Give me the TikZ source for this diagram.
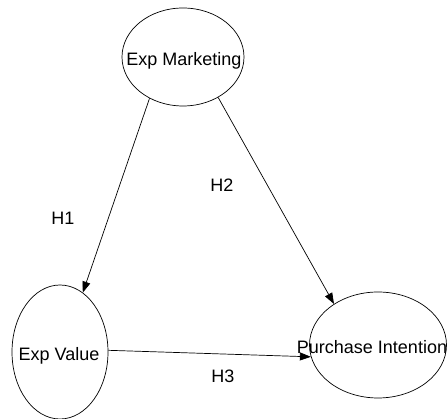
\documentclass[tikz,border=0pt]{standalone}
\usepackage{fontspec}
\setmainfont{Liberation Sans}
\usetikzlibrary{shapes.geometric,arrows.meta}
\tikzset{
    construct/.style={draw, ellipse, inner sep=0pt, line width=0.7pt},
    caption/.style={font=\fontsize{18}{21}\selectfont, inner sep=0pt},
    hypo/.style={-{Triangle[length=11pt,width=8pt]}, line width=0.7pt}
}
\begin{document}
\begin{tikzpicture}[x=1pt,y=1pt]
            \useasboundingbox                                                    (0,0) rectangle (448,419);
            \node[construct, minimum width=122pt, minimum height=98pt]  (mkt) at (183,362) {};
            \node[construct, minimum width=96pt,  minimum height=134pt] (val) at (60,67)   {};
            \node[construct, minimum width=137pt, minimum height=106pt] (pur) at (378,74)  {};
            \node[caption] (mktText) at (184,358) {Exp Marketing};
            \node[caption] (valText) at (59,63)   {Exp Value};
            \node[caption] (purText) at (372,72)  {Purchase Intention};
            % hypotheses
            \draw[hypo] (mkt.231) -- (val.69);
            \draw[hypo] (mkt.311) -- (pur.137);
            \draw[hypo] (val.2)   -- (pur.190);
            \node[caption] (h1) at (63,201)  {H1};
            \node[caption] (h2) at (222,234) {H2};
            \node[caption] (h3) at (223,43)  {H3};
        \end{tikzpicture}
\end{document}
